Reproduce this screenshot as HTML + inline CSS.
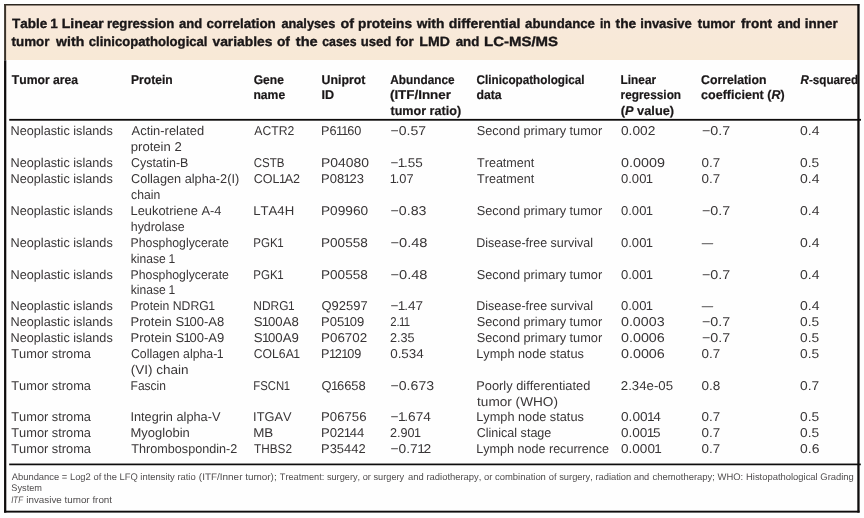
<!DOCTYPE html>
<html><head><meta charset="utf-8"><title>Table 1</title>
<style>
html,body{margin:0;padding:0;}
body{width:864px;height:518px;background:#fefefe;position:relative;overflow:hidden;font-family:"Liberation Sans",sans-serif;}
.txt{position:absolute;left:0;top:0;width:864px;height:518px;will-change:transform;}
svg{position:absolute;left:0;top:0;}
text{font-family:"Liberation Sans",sans-serif;text-rendering:geometricPrecision;white-space:pre;font-kerning:none;}
.t{font-size:13.3px;font-weight:bold;fill:#1a1718;stroke:#1a1718;stroke-width:0.35px;}
.h{font-size:12.6px;font-weight:bold;fill:#1a1718;stroke:#1a1718;stroke-width:0.2px;}
.b{font-size:12.8px;fill:#383536;}
.f{font-size:9.5px;fill:#504d4e;}
.band{position:absolute;left:5px;top:5px;width:853px;height:55px;background:linear-gradient(#f8e9dc,#f8e9d6);}
.ln{fill:#0e0c0c;}
.d{position:absolute;background:#3a3738;height:1px;}
tspan.i{font-style:italic;}
</style></head><body>
<div class="band"></div>
<div class="txt">

<svg width="864" height="518" viewBox="0 0 864 518">
<rect x="4.1" y="4.0" width="855.3" height="1.5" fill="#2c261f"/>
<rect x="4.1" y="4.0" width="2.0" height="56.3" fill="#3a322a"/>
<rect class="ln" x="4.05" y="60.3" width="2.25" height="452.3"/>
<rect class="ln" x="857.3" y="4.0" width="2.3" height="508.6"/>
<rect class="ln" x="4.05" y="510.7" width="855.5" height="1.9"/>
<rect class="ln" x="9.2" y="118.9" width="851.8" height="1.8"/>
<rect class="ln" x="9.2" y="463.55" width="851.6" height="1.7"/>

<text class="t" x="11.95" y="28" textLength="35.26" lengthAdjust="spacingAndGlyphs">Table</text>
<text class="t" x="50.25" y="28" textLength="7.54" lengthAdjust="spacingAndGlyphs">1</text>
<text class="t" x="61.66" y="28" textLength="42.15" lengthAdjust="spacingAndGlyphs">Linear</text>
<text class="t" x="106.88" y="28" textLength="67.43" lengthAdjust="spacingAndGlyphs">regression</text>
<text class="t" x="178.92" y="28" textLength="23.19" lengthAdjust="spacingAndGlyphs">and</text>
<text class="t" x="206.48" y="28" textLength="69.34" lengthAdjust="spacingAndGlyphs">correlation</text>
<text class="t" x="281.38" y="28" textLength="53.88" lengthAdjust="spacingAndGlyphs">analyses</text>
<text class="t" x="340.44" y="28" textLength="13.54" lengthAdjust="spacingAndGlyphs">of</text>
<text class="t" x="358.10" y="28" textLength="53.97" lengthAdjust="spacingAndGlyphs">proteins</text>
<text class="t" x="416.79" y="28" textLength="27.56" lengthAdjust="spacingAndGlyphs">with</text>
<text class="t" x="448.67" y="28" textLength="71.82" lengthAdjust="spacingAndGlyphs">differential</text>
<text class="t" x="525.11" y="28" textLength="69.83" lengthAdjust="spacingAndGlyphs">abundance</text>
<text class="t" x="599.90" y="28" textLength="10.87" lengthAdjust="spacingAndGlyphs">in</text>
<text class="t" x="615.58" y="28" textLength="20.64" lengthAdjust="spacingAndGlyphs">the</text>
<text class="t" x="640.34" y="28" textLength="51.35" lengthAdjust="spacingAndGlyphs">invasive</text>
<text class="t" x="697.84" y="28" textLength="37.35" lengthAdjust="spacingAndGlyphs">tumor</text>
<text class="t" x="741.02" y="28" textLength="31.15" lengthAdjust="spacingAndGlyphs">front</text>
<text class="t" x="777.62" y="28" textLength="23.24" lengthAdjust="spacingAndGlyphs">and</text>
<text class="t" x="804.81" y="28" textLength="32.89" lengthAdjust="spacingAndGlyphs">inner</text>
<text class="t" x="11.59" y="46" textLength="37.86" lengthAdjust="spacingAndGlyphs">tumor</text>
<text class="t" x="56.14" y="46" textLength="28.13" lengthAdjust="spacingAndGlyphs">with</text>
<text class="t" x="88.74" y="46" textLength="118.78" lengthAdjust="spacingAndGlyphs">clinicopathological</text>
<text class="t" x="212.45" y="46" textLength="60.02" lengthAdjust="spacingAndGlyphs">variables</text>
<text class="t" x="276.96" y="46" textLength="13.02" lengthAdjust="spacingAndGlyphs">of</text>
<text class="t" x="295.82" y="46" textLength="21.93" lengthAdjust="spacingAndGlyphs">the</text>
<text class="t" x="322.27" y="46" textLength="34.24" lengthAdjust="spacingAndGlyphs">cases</text>
<text class="t" x="360.68" y="46" textLength="30.69" lengthAdjust="spacingAndGlyphs">used</text>
<text class="t" x="395.77" y="46" textLength="17.94" lengthAdjust="spacingAndGlyphs">for</text>
<text class="t" x="419.31" y="46" textLength="30.54" lengthAdjust="spacingAndGlyphs">LMD</text>
<text class="t" x="455.71" y="46" textLength="23.66" lengthAdjust="spacingAndGlyphs">and</text>
<text class="t" x="484.00" y="46" textLength="74.08" lengthAdjust="spacingAndGlyphs">LC-MS/MS</text>
<text class="h" x="11.86" y="84" textLength="66.28" lengthAdjust="spacingAndGlyphs">Tumor area</text>
<text class="h" x="130.94" y="84" textLength="41.80" lengthAdjust="spacingAndGlyphs">Protein</text>
<text class="h" x="253.76" y="84" textLength="30.14" lengthAdjust="spacingAndGlyphs">Gene</text>
<text class="h" x="253.45" y="99" textLength="31.71" lengthAdjust="spacingAndGlyphs">name</text>
<text class="h" x="321.51" y="84" textLength="43.88" lengthAdjust="spacingAndGlyphs">Uniprot</text>
<text class="h" x="321.41" y="99" textLength="12.62" lengthAdjust="spacingAndGlyphs">ID</text>
<text class="h" x="390.31" y="84" textLength="64.32" lengthAdjust="spacingAndGlyphs">Abundance</text>
<text class="h" x="389.93" y="99" textLength="61.00" lengthAdjust="spacingAndGlyphs">(ITF/Inner</text>
<text class="h" x="390.45" y="115" textLength="70.66" lengthAdjust="spacingAndGlyphs">tumor ratio)</text>
<text class="h" x="476.52" y="84" textLength="108.01" lengthAdjust="spacingAndGlyphs">Clinicopathological</text>
<text class="h" x="476.50" y="99" textLength="25.17" lengthAdjust="spacingAndGlyphs">data</text>
<text class="h" x="620.61" y="84" textLength="35.46" lengthAdjust="spacingAndGlyphs">Linear</text>
<text class="h" x="620.62" y="99" textLength="60.49" lengthAdjust="spacingAndGlyphs">regression</text>
<text class="h" x="620.76" y="115" textLength="53.37" lengthAdjust="spacingAndGlyphs">(<tspan class="i">P</tspan> value)</text>
<text class="h" x="701.10" y="84" textLength="65.34" lengthAdjust="spacingAndGlyphs">Correlation</text>
<text class="h" x="701.11" y="99" textLength="83.51" lengthAdjust="spacingAndGlyphs">coefficient (<tspan class="i">R</tspan>)</text>
<text class="h" x="800.49" y="84" textLength="57.76" lengthAdjust="spacingAndGlyphs"><tspan class="i">R</tspan>-squared</text>
<text class="b" x="10.56" y="135" textLength="102.18" lengthAdjust="spacingAndGlyphs">Neoplastic islands</text>
<text class="b" x="131.57" y="135" textLength="72.55" lengthAdjust="spacingAndGlyphs">Actin-related</text>
<text class="b" x="130.76" y="151" textLength="51.00" lengthAdjust="spacingAndGlyphs">protein 2</text>
<text class="b" x="254.28" y="135" textLength="39.98" lengthAdjust="spacingAndGlyphs">ACTR2</text>
<text class="b" x="321.05" y="135" dx="0 0 -0.6 -1.8 -1.2 0" textLength="40.38" lengthAdjust="spacingAndGlyphs">P61160</text>
<text class="b" x="390.51" y="135" textLength="35.60" lengthAdjust="spacingAndGlyphs">−0.57</text>
<text class="b" x="476.72" y="135" textLength="125.47" lengthAdjust="spacingAndGlyphs">Second primary tumor</text>
<text class="b" x="620.96" y="135" textLength="34.43" lengthAdjust="spacingAndGlyphs">0.002</text>
<text class="b" x="701.99" y="135" textLength="28.33" lengthAdjust="spacingAndGlyphs">−0.7</text>
<text class="b" x="800.05" y="135" textLength="19.46" lengthAdjust="spacingAndGlyphs">0.4</text>
<text class="b" x="10.56" y="167" textLength="102.18" lengthAdjust="spacingAndGlyphs">Neoplastic islands</text>
<text class="b" x="130.97" y="167" textLength="57.43" lengthAdjust="spacingAndGlyphs">Cystatin-B</text>
<text class="b" x="253.71" y="167" textLength="30.80" lengthAdjust="spacingAndGlyphs">CSTB</text>
<text class="b" x="320.96" y="167" textLength="48.08" lengthAdjust="spacingAndGlyphs">P04080</text>
<text class="b" x="390.53" y="167" dx="0 -0.6 -1.2 0 0" textLength="32.27" lengthAdjust="spacingAndGlyphs">−1.55</text>
<text class="b" x="477.02" y="167" textLength="57.32" lengthAdjust="spacingAndGlyphs">Treatment</text>
<text class="b" x="620.94" y="167" textLength="43.93" lengthAdjust="spacingAndGlyphs">0.0009</text>
<text class="b" x="701.47" y="167" textLength="18.71" lengthAdjust="spacingAndGlyphs">0.7</text>
<text class="b" x="800.06" y="167" textLength="19.12" lengthAdjust="spacingAndGlyphs">0.5</text>
<text class="b" x="10.56" y="183" textLength="102.18" lengthAdjust="spacingAndGlyphs">Neoplastic islands</text>
<text class="b" x="130.95" y="183" textLength="108.22" lengthAdjust="spacingAndGlyphs">Collagen alpha-2(I)</text>
<text class="b" x="131.08" y="199" textLength="29.10" lengthAdjust="spacingAndGlyphs">chain</text>
<text class="b" x="253.66" y="183" dx="0 0 0 -0.6 -1.2 0" textLength="46.41" lengthAdjust="spacingAndGlyphs">COL1A2</text>
<text class="b" x="321.03" y="183" dx="0 0 0 -0.6 -1.2 0" textLength="43.08" lengthAdjust="spacingAndGlyphs">P08123</text>
<text class="b" x="389.72" y="183" dx="0 -1.2 0 0" textLength="23.85" lengthAdjust="spacingAndGlyphs">1.07</text>
<text class="b" x="477.02" y="183" textLength="57.32" lengthAdjust="spacingAndGlyphs">Treatment</text>
<text class="b" x="620.99" y="183" dx="0 0 0 0 -0.6" textLength="32.08" lengthAdjust="spacingAndGlyphs">0.001</text>
<text class="b" x="701.47" y="183" textLength="18.71" lengthAdjust="spacingAndGlyphs">0.7</text>
<text class="b" x="800.05" y="183" textLength="19.46" lengthAdjust="spacingAndGlyphs">0.4</text>
<text class="b" x="10.56" y="215" textLength="102.18" lengthAdjust="spacingAndGlyphs">Neoplastic islands</text>
<text class="b" x="130.54" y="215" textLength="90.92" lengthAdjust="spacingAndGlyphs">Leukotriene A-4</text>
<text class="b" x="130.74" y="231" textLength="53.81" lengthAdjust="spacingAndGlyphs">hydrolase</text>
<text class="b" x="253.22" y="215" textLength="40.94" lengthAdjust="spacingAndGlyphs">LTA4H</text>
<text class="b" x="320.98" y="215" textLength="47.25" lengthAdjust="spacingAndGlyphs">P09960</text>
<text class="b" x="390.50" y="215" textLength="36.03" lengthAdjust="spacingAndGlyphs">−0.83</text>
<text class="b" x="476.72" y="215" textLength="125.47" lengthAdjust="spacingAndGlyphs">Second primary tumor</text>
<text class="b" x="620.99" y="215" dx="0 0 0 0 -0.6" textLength="32.08" lengthAdjust="spacingAndGlyphs">0.001</text>
<text class="b" x="701.99" y="215" textLength="28.33" lengthAdjust="spacingAndGlyphs">−0.7</text>
<text class="b" x="800.05" y="215" textLength="19.46" lengthAdjust="spacingAndGlyphs">0.4</text>
<text class="b" x="10.56" y="247" textLength="102.18" lengthAdjust="spacingAndGlyphs">Neoplastic islands</text>
<text class="b" x="130.59" y="247" textLength="98.34" lengthAdjust="spacingAndGlyphs">Phosphoglycerate</text>
<text class="b" x="130.78" y="263" dx="0 0 0 0 0 0 0 -0.6" textLength="44.55" lengthAdjust="spacingAndGlyphs">kinase 1</text>
<text class="b" x="253.35" y="247" dx="0 0 0 -0.6" textLength="30.35" lengthAdjust="spacingAndGlyphs">PGK1</text>
<text class="b" x="320.99" y="247" textLength="46.80" lengthAdjust="spacingAndGlyphs">P00558</text>
<text class="b" x="390.48" y="247" textLength="37.06" lengthAdjust="spacingAndGlyphs">−0.48</text>
<text class="b" x="476.27" y="247" textLength="116.74" lengthAdjust="spacingAndGlyphs">Disease-free survival</text>
<text class="b" x="620.99" y="247" dx="0 0 0 0 -0.6" textLength="32.08" lengthAdjust="spacingAndGlyphs">0.001</text>
<text class="b" x="701.80" y="247" textLength="11.40" lengthAdjust="spacingAndGlyphs">—</text>
<text class="b" x="800.05" y="247" textLength="19.46" lengthAdjust="spacingAndGlyphs">0.4</text>
<text class="b" x="10.56" y="279" textLength="102.18" lengthAdjust="spacingAndGlyphs">Neoplastic islands</text>
<text class="b" x="130.59" y="279" textLength="98.34" lengthAdjust="spacingAndGlyphs">Phosphoglycerate</text>
<text class="b" x="130.78" y="294" dx="0 0 0 0 0 0 0 -0.6" textLength="44.55" lengthAdjust="spacingAndGlyphs">kinase 1</text>
<text class="b" x="253.35" y="279" dx="0 0 0 -0.6" textLength="30.35" lengthAdjust="spacingAndGlyphs">PGK1</text>
<text class="b" x="320.99" y="279" textLength="46.80" lengthAdjust="spacingAndGlyphs">P00558</text>
<text class="b" x="390.48" y="279" textLength="37.06" lengthAdjust="spacingAndGlyphs">−0.48</text>
<text class="b" x="476.72" y="279" textLength="125.47" lengthAdjust="spacingAndGlyphs">Second primary tumor</text>
<text class="b" x="620.99" y="279" dx="0 0 0 0 -0.6" textLength="32.08" lengthAdjust="spacingAndGlyphs">0.001</text>
<text class="b" x="701.99" y="279" textLength="28.33" lengthAdjust="spacingAndGlyphs">−0.7</text>
<text class="b" x="800.05" y="279" textLength="19.46" lengthAdjust="spacingAndGlyphs">0.4</text>
<text class="b" x="10.56" y="310" textLength="102.18" lengthAdjust="spacingAndGlyphs">Neoplastic islands</text>
<text class="b" x="130.60" y="310" dx="0 0 0 0 0 0 0 0 0 0 0 0 -0.6" textLength="84.43" lengthAdjust="spacingAndGlyphs">Protein NDRG1</text>
<text class="b" x="253.32" y="310" dx="0 0 0 0 -0.6" textLength="41.19" lengthAdjust="spacingAndGlyphs">NDRG1</text>
<text class="b" x="321.49" y="310" textLength="46.16" lengthAdjust="spacingAndGlyphs">Q92597</text>
<text class="b" x="390.53" y="310" dx="0 -0.6 -1.2 0 0" textLength="32.59" lengthAdjust="spacingAndGlyphs">−1.47</text>
<text class="b" x="476.27" y="310" textLength="116.74" lengthAdjust="spacingAndGlyphs">Disease-free survival</text>
<text class="b" x="620.99" y="310" dx="0 0 0 0 -0.6" textLength="32.08" lengthAdjust="spacingAndGlyphs">0.001</text>
<text class="b" x="701.80" y="310" textLength="11.40" lengthAdjust="spacingAndGlyphs">—</text>
<text class="b" x="800.05" y="310" textLength="19.46" lengthAdjust="spacingAndGlyphs">0.4</text>
<text class="b" x="10.56" y="326" textLength="102.18" lengthAdjust="spacingAndGlyphs">Neoplastic islands</text>
<text class="b" x="130.53" y="326" dx="0 0 0 0 0 0 0 0 0 -0.6 -1.2 0 0 0 0" textLength="93.72" lengthAdjust="spacingAndGlyphs">Protein S100-A8</text>
<text class="b" x="253.70" y="326" dx="0 -0.6 -1.2 0 0 0" textLength="45.12" lengthAdjust="spacingAndGlyphs">S100A8</text>
<text class="b" x="321.03" y="326" dx="0 0 0 -0.6 -1.2 0" textLength="43.13" lengthAdjust="spacingAndGlyphs">P05109</text>
<text class="b" x="390.13" y="326" dx="0 0 -0.6 -1.8" textLength="20.05" lengthAdjust="spacingAndGlyphs">2.11</text>
<text class="b" x="476.72" y="326" textLength="125.47" lengthAdjust="spacingAndGlyphs">Second primary tumor</text>
<text class="b" x="620.94" y="326" textLength="43.68" lengthAdjust="spacingAndGlyphs">0.0003</text>
<text class="b" x="701.99" y="326" textLength="28.33" lengthAdjust="spacingAndGlyphs">−0.7</text>
<text class="b" x="800.06" y="326" textLength="19.12" lengthAdjust="spacingAndGlyphs">0.5</text>
<text class="b" x="10.56" y="342" textLength="102.18" lengthAdjust="spacingAndGlyphs">Neoplastic islands</text>
<text class="b" x="130.53" y="342" dx="0 0 0 0 0 0 0 0 0 -0.6 -1.2 0 0 0 0" textLength="93.78" lengthAdjust="spacingAndGlyphs">Protein S100-A9</text>
<text class="b" x="253.70" y="342" dx="0 -0.6 -1.2 0 0 0" textLength="45.17" lengthAdjust="spacingAndGlyphs">S100A9</text>
<text class="b" x="321.00" y="342" textLength="46.17" lengthAdjust="spacingAndGlyphs">P06702</text>
<text class="b" x="390.07" y="342" textLength="24.57" lengthAdjust="spacingAndGlyphs">2.35</text>
<text class="b" x="476.72" y="342" textLength="125.47" lengthAdjust="spacingAndGlyphs">Second primary tumor</text>
<text class="b" x="620.94" y="342" textLength="43.88" lengthAdjust="spacingAndGlyphs">0.0006</text>
<text class="b" x="701.99" y="342" textLength="28.33" lengthAdjust="spacingAndGlyphs">−0.7</text>
<text class="b" x="800.06" y="342" textLength="19.12" lengthAdjust="spacingAndGlyphs">0.5</text>
<text class="b" x="11.31" y="358" textLength="79.67" lengthAdjust="spacingAndGlyphs">Tumor stroma</text>
<text class="b" x="130.97" y="358" dx="0 0 0 0 0 0 0 0 0 0 0 0 0 0 0 -0.6" textLength="92.60" lengthAdjust="spacingAndGlyphs">Collagen alpha-1</text>
<text class="b" x="130.76" y="374" textLength="57.86" lengthAdjust="spacingAndGlyphs">(VI) chain</text>
<text class="b" x="253.68" y="358" dx="0 0 0 0 0 -0.6" textLength="46.36" lengthAdjust="spacingAndGlyphs">COL6A1</text>
<text class="b" x="321.06" y="358" dx="0 -0.6 -1.2 -0.6 -1.2 0" textLength="40.28" lengthAdjust="spacingAndGlyphs">P12109</text>
<text class="b" x="390.18" y="358" textLength="33.62" lengthAdjust="spacingAndGlyphs">0.534</text>
<text class="b" x="476.26" y="358" textLength="107.59" lengthAdjust="spacingAndGlyphs">Lymph node status</text>
<text class="b" x="620.94" y="358" textLength="43.88" lengthAdjust="spacingAndGlyphs">0.0006</text>
<text class="b" x="701.47" y="358" textLength="18.71" lengthAdjust="spacingAndGlyphs">0.7</text>
<text class="b" x="800.06" y="358" textLength="19.12" lengthAdjust="spacingAndGlyphs">0.5</text>
<text class="b" x="11.31" y="390" textLength="79.67" lengthAdjust="spacingAndGlyphs">Tumor stroma</text>
<text class="b" x="130.62" y="390" textLength="35.37" lengthAdjust="spacingAndGlyphs">Fascin</text>
<text class="b" x="253.37" y="390" dx="0 0 0 0 -0.6" textLength="36.61" lengthAdjust="spacingAndGlyphs">FSCN1</text>
<text class="b" x="321.49" y="390" dx="0 -0.6 -1.2 0 0 0" textLength="44.32" lengthAdjust="spacingAndGlyphs">Q16658</text>
<text class="b" x="390.50" y="390" textLength="43.61" lengthAdjust="spacingAndGlyphs">−0.673</text>
<text class="b" x="476.25" y="390" textLength="114.06" lengthAdjust="spacingAndGlyphs">Poorly differentiated</text>
<text class="b" x="477.09" y="406" textLength="80.85" lengthAdjust="spacingAndGlyphs">tumor (WHO)</text>
<text class="b" x="620.83" y="390" textLength="52.22" lengthAdjust="spacingAndGlyphs">2.34e-05</text>
<text class="b" x="701.47" y="390" textLength="18.82" lengthAdjust="spacingAndGlyphs">0.8</text>
<text class="b" x="800.06" y="390" textLength="19.24" lengthAdjust="spacingAndGlyphs">0.7</text>
<text class="b" x="11.31" y="421" textLength="79.67" lengthAdjust="spacingAndGlyphs">Tumor stroma</text>
<text class="b" x="130.42" y="421" textLength="90.02" lengthAdjust="spacingAndGlyphs">Integrin alpha-V</text>
<text class="b" x="253.12" y="421" textLength="38.34" lengthAdjust="spacingAndGlyphs">ITGAV</text>
<text class="b" x="321.02" y="421" textLength="45.56" lengthAdjust="spacingAndGlyphs">P06756</text>
<text class="b" x="390.52" y="421" dx="0 -0.6 -1.2 0 0 0" textLength="40.42" lengthAdjust="spacingAndGlyphs">−1.674</text>
<text class="b" x="476.26" y="421" textLength="107.59" lengthAdjust="spacingAndGlyphs">Lymph node status</text>
<text class="b" x="620.97" y="421" dx="0 0 0 0 -0.6 -1.2" textLength="39.98" lengthAdjust="spacingAndGlyphs">0.0014</text>
<text class="b" x="701.47" y="421" textLength="18.71" lengthAdjust="spacingAndGlyphs">0.7</text>
<text class="b" x="800.06" y="421" textLength="19.12" lengthAdjust="spacingAndGlyphs">0.5</text>
<text class="b" x="11.31" y="437" textLength="79.67" lengthAdjust="spacingAndGlyphs">Tumor stroma</text>
<text class="b" x="130.53" y="437" textLength="59.31" lengthAdjust="spacingAndGlyphs">Myoglobin</text>
<text class="b" x="253.20" y="437" textLength="20.11" lengthAdjust="spacingAndGlyphs">MB</text>
<text class="b" x="321.02" y="437" dx="0 0 0 -0.6 -1.2 0" textLength="43.40" lengthAdjust="spacingAndGlyphs">P02144</text>
<text class="b" x="390.07" y="437" dx="0 0 0 0 -0.6" textLength="30.98" lengthAdjust="spacingAndGlyphs">2.901</text>
<text class="b" x="476.66" y="437" textLength="74.68" lengthAdjust="spacingAndGlyphs">Clinical stage</text>
<text class="b" x="620.97" y="437" dx="0 0 0 0 -0.6 -1.2" textLength="39.64" lengthAdjust="spacingAndGlyphs">0.0015</text>
<text class="b" x="701.47" y="437" textLength="18.71" lengthAdjust="spacingAndGlyphs">0.7</text>
<text class="b" x="800.06" y="437" textLength="19.12" lengthAdjust="spacingAndGlyphs">0.5</text>
<text class="b" x="11.31" y="453" textLength="79.67" lengthAdjust="spacingAndGlyphs">Tumor stroma</text>
<text class="b" x="131.32" y="453" textLength="106.00" lengthAdjust="spacingAndGlyphs">Thrombospondin-2</text>
<text class="b" x="254.04" y="453" textLength="37.95" lengthAdjust="spacingAndGlyphs">THBS2</text>
<text class="b" x="321.04" y="453" textLength="44.61" lengthAdjust="spacingAndGlyphs">P35442</text>
<text class="b" x="390.52" y="453" dx="0 0 0 0 -0.6 -1.2" textLength="40.72" lengthAdjust="spacingAndGlyphs">−0.712</text>
<text class="b" x="476.27" y="453" textLength="132.76" lengthAdjust="spacingAndGlyphs">Lymph node recurrence</text>
<text class="b" x="620.97" y="453" dx="0 0 0 0 0 -0.6" textLength="40.93" lengthAdjust="spacingAndGlyphs">0.0001</text>
<text class="b" x="701.47" y="453" textLength="18.71" lengthAdjust="spacingAndGlyphs">0.7</text>
<text class="b" x="800.06" y="453" textLength="19.36" lengthAdjust="spacingAndGlyphs">0.6</text>
<text class="f" x="11.73" y="480" textLength="183.97" lengthAdjust="spacingAndGlyphs">Abundance = Log2 of the LFQ intensity ratio</text>
<text class="f" x="198.88" y="480" textLength="77.77" lengthAdjust="spacingAndGlyphs">(ITF/Inner tumor);</text>
<text class="f" x="279.79" y="480" textLength="124.43" lengthAdjust="spacingAndGlyphs">Treatment: surgery, or surgery</text>
<text class="f" x="408.10" y="480" textLength="137.78" lengthAdjust="spacingAndGlyphs">and radiotherapy, or combination</text>
<text class="f" x="548.86" y="480" textLength="100.44" lengthAdjust="spacingAndGlyphs">of surgery, radiation and</text>
<text class="f" x="652.50" y="480" textLength="90.67" lengthAdjust="spacingAndGlyphs">chemotherapy; WHO:</text>
<text class="f" x="746.03" y="480" textLength="107.79" lengthAdjust="spacingAndGlyphs">Histopathological Grading</text>
<text class="f" x="11.33" y="491" textLength="30.69" lengthAdjust="spacingAndGlyphs">System</text>
<text class="f" x="11.19" y="503" textLength="11.75" lengthAdjust="spacingAndGlyphs"><tspan class="i">ITF</tspan></text>
<text class="f" x="26.24" y="503" textLength="85.84" lengthAdjust="spacingAndGlyphs">invasive tumor front</text>
</svg>
</div></body></html>
